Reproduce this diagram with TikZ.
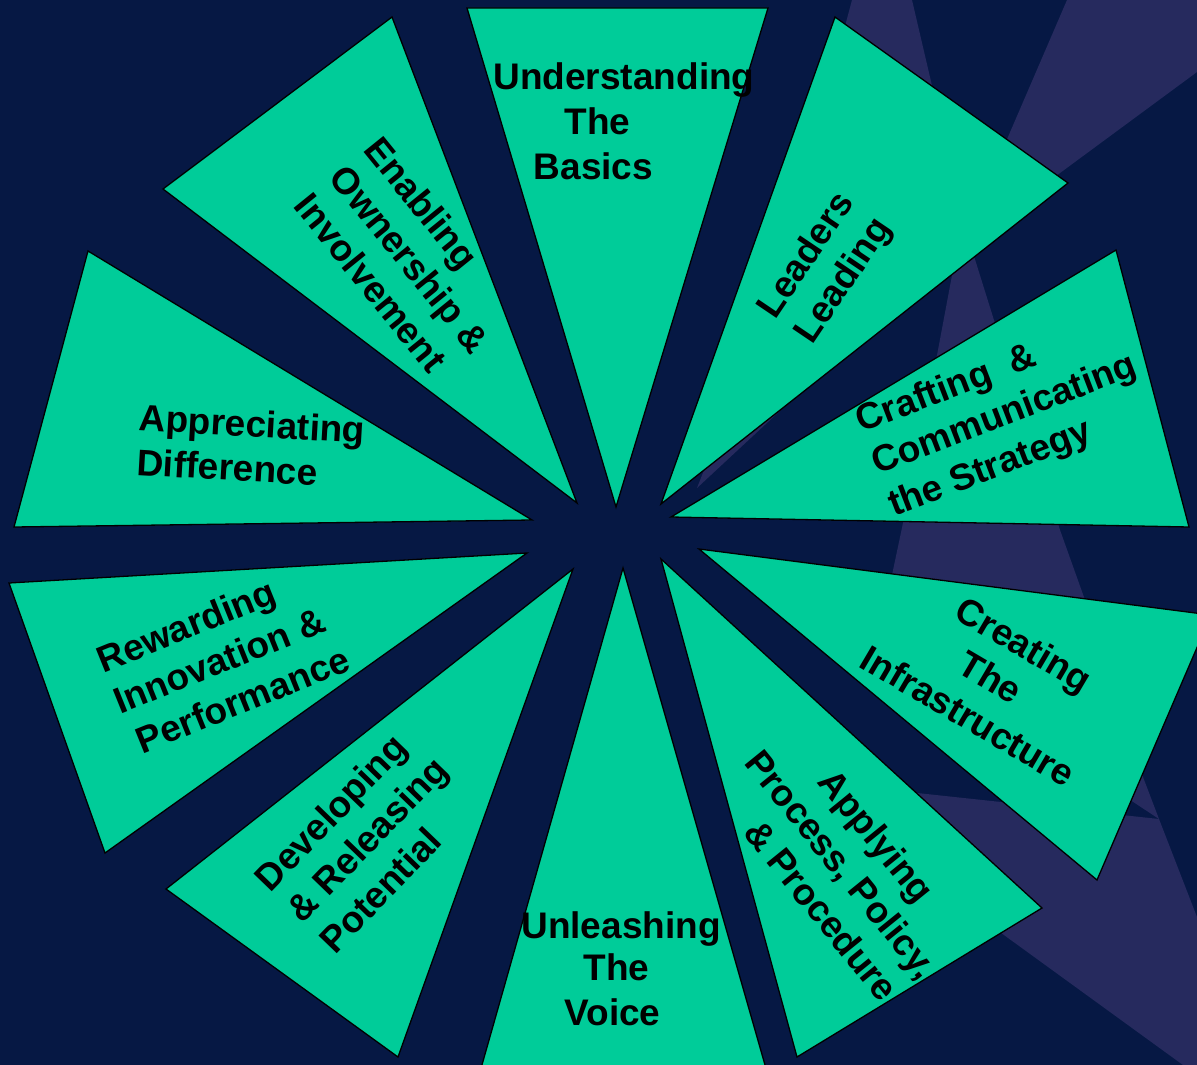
\documentclass[tikz,border=0pt]{standalone}
\usepackage{fontspec}
\setmainfont{Liberation Sans}
\definecolor{bgnavy}{RGB}{6,24,68}
\definecolor{bgpurple}{RGB}{38,42,94}
\definecolor{tealgreen}{RGB}{0,204,153}
\begin{document}
\begin{tikzpicture}[x=1pt,y=-1pt,
  wedge/.style={fill=tealgreen,draw=black,line width=1.3pt,line join=miter},
  ray/.style={fill=bgpurple},
  lbl/.style={font=\bfseries\fontsize{37}{45}\selectfont,inner sep=0pt,text=black}]
\fill[bgnavy] (0,0) rectangle (1197,1065);
\useasboundingbox (0,0) rectangle (1197,1065);
% background light shapes
\fill[ray] (852,0) -- (912,0) -- (940,120) -- (820,120) -- cycle;
\fill[ray] (1067,0) -- (1197,0) -- (1197,72) -- (961,246) -- cycle;
\fill[ray] (964,216) -- (973,253) -- (993,317) -- (1060,530) -- (1085,600) -- (1143,777) -- (1159,819)
  -- (1000,714) -- (887,600) -- (892,575) -- (903,523) -- (938,350) -- (953,270) -- cycle;
\fill[ray] (880,789) -- (1159,819) -- (1197,917) -- (1197,1065) -- (1183,1065) -- (880,845) -- cycle;
\fill[ray] (697,488) -- (783,408) -- (800,385) -- (710,455) -- cycle;
% triangles
\filldraw[wedge] (467,8) -- (768,8) -- (616,507) -- cycle;
\filldraw[wedge] (835,17) -- (1068,183) -- (661,504) -- cycle;
\filldraw[wedge] (1116,250) -- (1189,527) -- (671,517) -- cycle;
\filldraw[wedge] (1211,615) -- (1097,880) -- (699,549) -- cycle;
\filldraw[wedge] (1042,908) -- (797,1057) -- (661,559) -- cycle;
\filldraw[wedge] (472,1100) -- (775,1100) -- (623,568) -- cycle;
\filldraw[wedge] (573,569) -- (166,889) -- (398,1057) -- cycle;
\filldraw[wedge] (527,553) -- (9,583) -- (105,853) -- cycle;
\filldraw[wedge] (88,251) -- (14,527) -- (532,520) -- cycle;
\filldraw[wedge] (392,17) -- (163,189) -- (577,503) -- cycle;
% labels
\node[lbl,anchor=base] (u1) at (624,89) {Understanding};
\node[lbl,anchor=base] (u2) at (597.5,134.5) {The};
\node[lbl,anchor=base] (u3) at (593.5,179) {Basics};
\node[lbl,anchor=base] (v1) at (621,938) {Unleashing};
\node[lbl,anchor=base] (v2) at (616.5,980.5) {The};
\node[lbl,anchor=base] (v3) at (612.5,1025) {Voice};
\node[lbl,align=left,rotate=-51] (en) at (410,259) {Enabling\\Ownership \&\\Involvement};
\node[lbl,align=left,rotate=56] (ld) at (826,269) {Leaders\\Leading};
\node[lbl,align=left,rotate=21] (cr) at (1005,416) {Crafting~~\&\\Communicating\\the Strategy};
\node[lbl,align=center,rotate=-30.5] (ci) at (991,677) {\hspace*{24pt}Creating\\The\\Infrastructure};
\node[lbl,align=center,rotate=-51] (ap) at (842,864) {Applying\\Process, Policy,\\\hspace*{46pt}\& Procedure};
\node[lbl,align=left,rotate=46] (dv) at (367,839) {Developing\\\& Releasing\\Potential};
\node[lbl,align=left,rotate=22] (rw) at (223,659) {Rewarding\\Innovation \&\\\hspace*{6pt}Performance};
\node[lbl,align=left,rotate=-3.3] (apd) at (251,446) {Appreciating\\Difference};
\end{tikzpicture}
\end{document}
